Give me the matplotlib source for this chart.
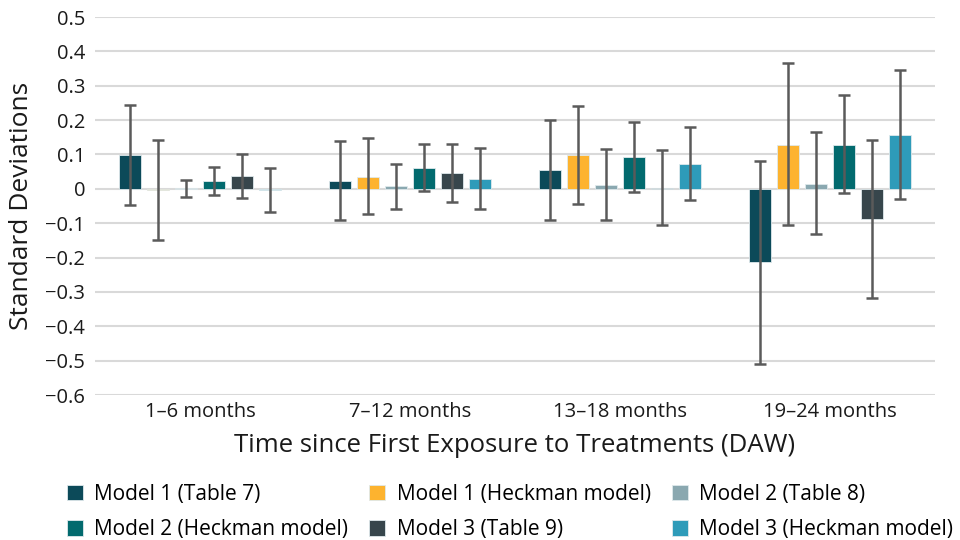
import numpy as np
import matplotlib.pyplot as plt
from matplotlib.ticker import FuncFormatter

plt.rcParams['font.family'] = ['Open Sans', 'DejaVu Sans']

#data
periods = ['1–6 months', '7–12 months', '13–18 months', '19–24 months']
models = ['Model 1 (Table 7)', 'Model 1 (Heckman model)', 'Model 2 (Table 8)',
          'Model 2 (Heckman model)', 'Model 3 (Table 9)', 'Model 3 (Heckman model)']
colors = ['#0c4a59', '#fdb32f', '#8aa8b0', '#026a6e', '#37464c', '#2e9bb9']

m1_t7 = [0.097, 0.024, 0.055, -0.213]
m1_h = [-0.003, 0.035, 0.097, 0.128]
m2_t8 = [0.002, 0.007, 0.012, 0.015]
m2_h = [0.022, 0.060, 0.092, 0.128]
m3_t9 = [0.038, 0.047, 0.003, -0.089]
m3_h = [-0.004, 0.029, 0.072, 0.157]

m1_t7_ci = [(-0.047, 0.244), (-0.091, 0.140), (-0.090, 0.200), (-0.510, 0.082)]
m1_h_ci = [(-0.149, 0.142), (-0.074, 0.147), (-0.045, 0.242), (-0.106, 0.366)]
m2_t8_ci = [(-0.023, 0.025), (-0.060, 0.073), (-0.090, 0.116), (-0.132, 0.164)]
m2_h_ci = [(-0.019, 0.063), (-0.006, 0.131), (-0.009, 0.194), (-0.011, 0.272)]
m3_t9_ci = [(-0.026, 0.101), (-0.038, 0.130), (-0.104, 0.114), (-0.318, 0.141)]
m3_h_ci = [(-0.068, 0.060), (-0.058, 0.118), (-0.032, 0.179), (-0.029, 0.347)]

values = [m1_t7, m1_h, m2_t8, m2_h, m3_t9, m3_h]
cis = [m1_t7_ci, m1_h_ci, m2_t8_ci, m2_h_ci, m3_t9_ci, m3_h_ci]

#figure
fig = plt.figure(figsize=(9.6, 5.4), dpi=100)
ax = fig.add_axes([0.099, 0.2685, 0.875, 0.7])

x = np.arange(len(periods))
step = 0.1335
width = 0.105
handles = []
for i, (vals, ci, c) in enumerate(zip(values, cis, colors)):
    pos = x + (i - 2.5) * step
    vals = np.array(vals)
    ci = np.array(ci)
    yerr = np.vstack([vals - ci[:, 0], ci[:, 1] - vals])
    b = ax.bar(pos, vals, width, color=c, edgecolor='#dfe9ec', linewidth=0.6, zorder=2)
    ax.errorbar(pos, vals, yerr=yerr, fmt='none', ecolor='#5a5a5a', elinewidth=1.8,
                capsize=4.5, capthick=1.8, zorder=3)
    handles.append(b)

ax.set_xlim(-0.5, 3.5)
ax.set_ylim(-0.6, 0.5)
ax.set_yticks(np.round(np.arange(-0.6, 0.51, 0.1), 1))
ax.yaxis.set_major_formatter(FuncFormatter(
    lambda v, p: '0' if abs(v) < 1e-9 else ('%.1f' % v).replace('-', '\u2212')))
ax.set_xticks(x)
ax.set_xticklabels(periods)
ax.tick_params(axis='both', length=0, labelsize=14.5, colors='#1a1a1a')
ax.tick_params(axis='x', pad=5)
ax.tick_params(axis='y', pad=7)
ax.grid(axis='y', color='#d9d9d9', linewidth=1.5, zorder=0)
ax.set_axisbelow(True)
for s in ax.spines.values():
    s.set_visible(False)

ax.set_ylabel('Standard Deviations', fontsize=19, color='#1a1a1a', labelpad=8)
ax.set_xlabel('Time since First Exposure to Treatments (DAW)', fontsize=18.5,
              color='#1a1a1a', labelpad=8)

#legend, filled row by row
order = [0, 3, 1, 4, 2, 5]
leg = fig.legend([handles[k] for k in order], [models[k] for k in order],
                 loc='lower left', bbox_to_anchor=(0.05, -0.035), ncol=3, frameon=False,
                 fontsize=15, handlelength=0.77, handleheight=0.77, handletextpad=0.55,
                 columnspacing=1.0, labelspacing=0.7)

fig.savefig('out.png', dpi=100)
